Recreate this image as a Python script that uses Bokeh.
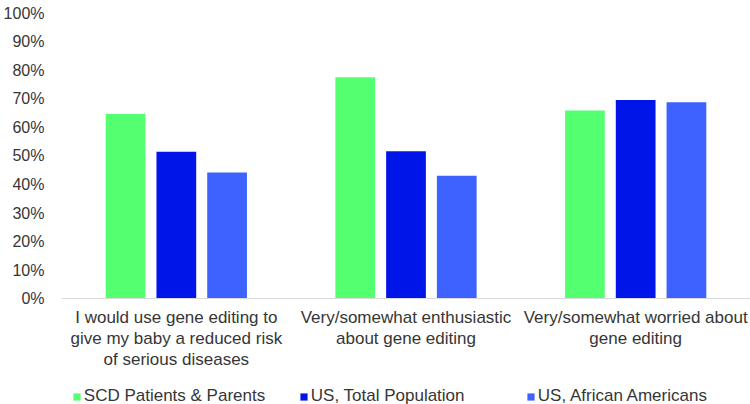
from bokeh.plotting import figure
from bokeh.models import (FactorRange, Range1d, FixedTicker, PrintfTickFormatter,
                          Legend, LegendItem, ColumnDataSource)
from bokeh.transform import dodge
from bokeh.embed import file_html
from bokeh.resources import INLINE

categories = [
    "I would use gene editing to\ngive my baby a reduced risk\nof serious diseases",
    "Very/somewhat enthusiastic\nabout gene editing",
    "Very/somewhat worried about\ngene editing",
]
series_names = ["SCD Patients & Parents", "US, Total Population", "US, African Americans"]
scd_patients_parents = [64.7, 77.5, 65.9]
us_total_population = [51.5, 51.6, 69.6]
us_african_americans = [44.2, 43.1, 68.8]
y_ticks = [0, 10, 20, 30, 40, 50, 60, 70, 80, 90, 100]

colors = ["#54FF70", "#0015E8", "#3D62FF"]
text_color = "#363636"
font = "Liberation Sans"

src = ColumnDataSource(dict(cat=categories, s0=scd_patients_parents,
                            s1=us_total_population, s2=us_african_americans))

p = figure(width=750, height=404, output_backend="svg", toolbar_location=None,
           x_range=FactorRange(*categories, range_padding=0, factor_padding=0),
           y_range=Range1d(-37.0, 104.4),
           min_border_left=58, min_border_right=0, min_border_top=0, min_border_bottom=0)
p.outline_line_color = None
p.xgrid.visible = False
p.ygrid.visible = False
p.background_fill_color = "white"
p.border_fill_color = "white"

offsets = [-0.221, 0.0, 0.221]
renderers = []
for i, col in enumerate(["s0", "s1", "s2"]):
    r = p.vbar(x=dodge("cat", offsets[i], range=p.x_range), top=col, width=0.173,
               source=src, fill_color=colors[i], line_color=None)
    renderers.append(r)

# y axis
p.yaxis.ticker = FixedTicker(ticks=y_ticks)
p.yaxis.formatter = PrintfTickFormatter(format="%d%%")
p.yaxis.axis_line_color = None
p.yaxis.major_tick_line_color = None
p.yaxis.minor_tick_line_color = None
p.yaxis.major_tick_out = 0
p.yaxis.major_label_standoff = 17
p.yaxis.major_label_text_font = font
p.yaxis.major_label_text_font_size = "16px"
p.yaxis.major_label_text_color = text_color

# x axis sits at y = 0 inside the frame
p.xaxis.fixed_location = 0
p.xaxis.axis_line_color = "#D9D9D9"
p.xaxis.axis_line_width = 1
p.xaxis.major_tick_line_color = None
p.xaxis.minor_tick_line_color = None
p.xaxis.major_tick_out = 0
p.xaxis.major_label_standoff = 9
p.xaxis.major_label_text_font = font
p.xaxis.major_label_text_font_size = "17px"
p.xaxis.major_label_text_color = text_color
p.xaxis.major_label_text_line_height = 1.1
p.xaxis.major_label_orientation = "horizontal"

legend = Legend(
    items=[LegendItem(label=series_names[i], renderers=[renderers[i]]) for i in range(3)],
    orientation="horizontal", location=(10.8, -2),
    glyph_width=9, glyph_height=9, label_height=18, label_width=200,
    label_standoff=3, spacing=15, padding=0, margin=0,
    border_line_color=None, background_fill_alpha=0,
    label_text_font=font, label_text_font_size="17px", label_text_color=text_color,
)
p.add_layout(legend, "center")

open("out.html", "w").write(file_html(p, INLINE))
